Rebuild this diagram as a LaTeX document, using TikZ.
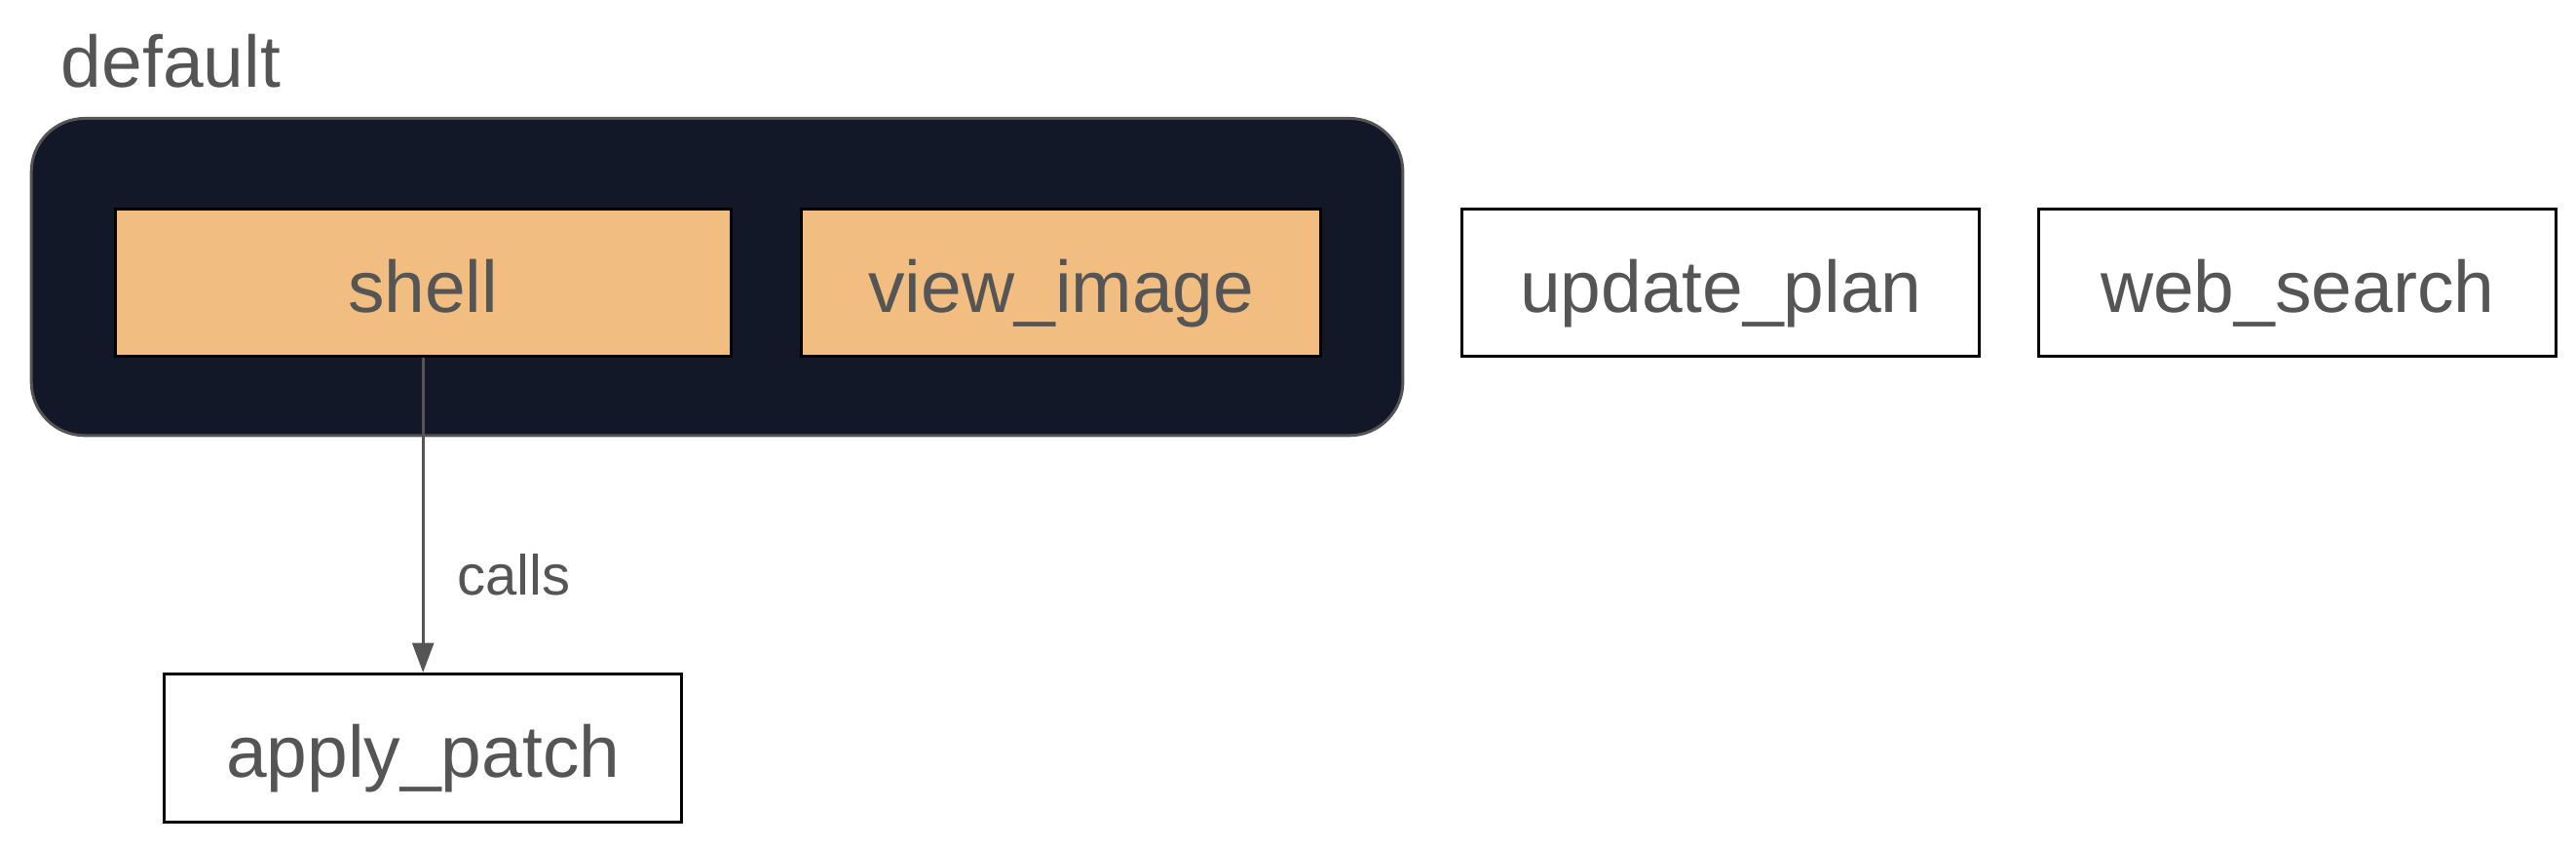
\documentclass[tikz,border=0pt]{standalone}
\usepackage{fontspec}
\setmainfont{Liberation Sans}
\usetikzlibrary{arrows.meta}
\definecolor{navy}{HTML}{131829}
\definecolor{peach}{HTML}{F2BD80}
\definecolor{txt}{HTML}{555555}
\begin{document}
\begin{tikzpicture}[x=0.02cm,y=-0.02cm,
  toolbox/.style={draw=black,line width=1pt,minimum height=1.8cm,inner sep=0pt,
    text height=0.72cm,text depth=0cm,
    text=txt,font=\fontsize{25.3}{30}\selectfont},
  inbox/.style={toolbox,fill=peach},
  outbox/.style={toolbox,fill=white,minimum width=6.3cm},
  grp/.style={draw=txt,line width=1pt,fill=navy,rounded corners=0.65cm,
    minimum width=16.7cm,minimum height=3.86cm,inner sep=0pt},
  lbl/.style={text=txt,inner sep=0pt},
  conn/.style={draw=txt,line width=1pt,-{Triangle[length=0.36cm,width=0.26cm]}}]
\useasboundingbox (0,0) rectangle (1568,515);
\node[grp] (grp) at (436.5,168.5) {};
\node[lbl,anchor=base west,font=\fontsize{25.3}{30}\selectfont] (deflbl) at (37,53) {default};
\node[inbox,minimum width=7.5cm] (shell) at (257.5,172) {shell};
\node[inbox,minimum width=6.32cm] (view) at (646,172) {view\_image};
\node[outbox] (plan) at (1047.5,172) {update\_plan};
\node[outbox] (web) at (1398.5,172) {web\_search};
\node[outbox] (patch) at (257.5,455) {apply\_patch};
\draw[conn] (shell.south) -- (patch.north);
\node[lbl,anchor=base west,font=\fontsize{19.6}{24}\selectfont] (calls) at (278,362) {calls};
\end{tikzpicture}
\end{document}
